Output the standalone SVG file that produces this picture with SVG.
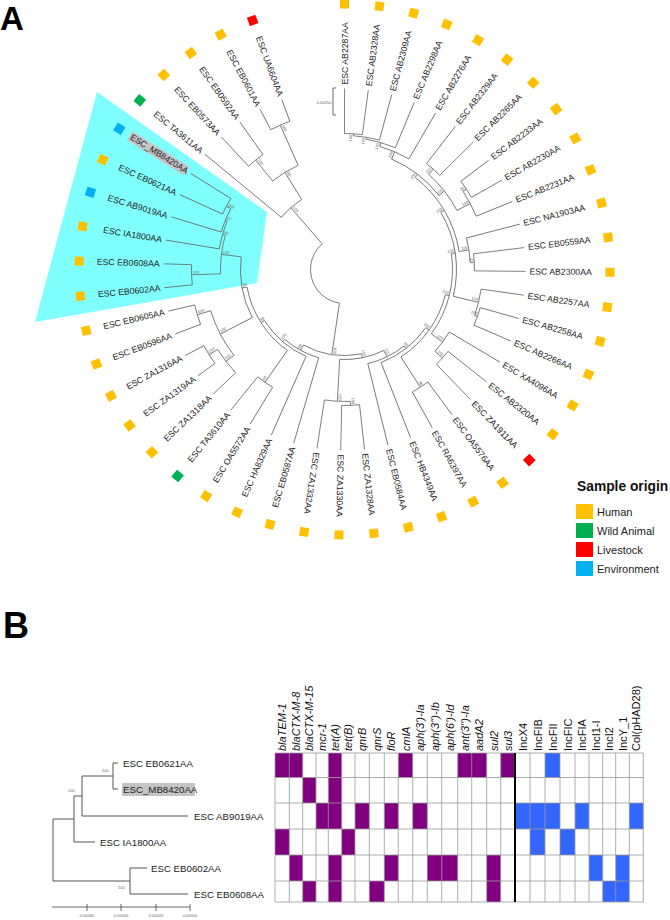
<svg xmlns="http://www.w3.org/2000/svg" width="670" height="920" viewBox="0 0 670 920">
<style>
.t{font-family:"Liberation Sans",Arial,sans-serif}
.lf{font-size:8.7px;fill:#222}
.bs{font-family:"Liberation Sans",Arial,sans-serif;font-size:4px;fill:#666}
.br{fill:none;stroke:#666;stroke-width:0.8}
.hu{fill:#FFC000}.wa{fill:#00B050}.li{fill:#FF0000}.en{fill:#00B0F0}
.pu{fill:#800080}.bl{fill:#3366FF}
.hd{font-family:"Liberation Sans",Arial,sans-serif;font-size:11px;fill:#111}
.it{font-style:italic}
.lb{font-family:"Liberation Sans",Arial,sans-serif;font-size:9.7px;fill:#222}
.grid{fill:none;stroke:#999;stroke-width:0.8}
.tb{fill:none;stroke:#555;stroke-width:1}
</style>
<rect width="670" height="920" fill="#fff"/>
<text class="t" x="0" y="30" font-size="33" font-weight="bold">A</text>
<polygon id="highlight" points="97,92 267,212 257,283 35,322" fill="#80FFFF"/>
<g id="connectors-a" class="br" transform="translate(344.5 269.5)">
<circle r="34" pathLength="360" stroke-dasharray="130.5 720" transform="rotate(98.5)"/>
<circle r="82" pathLength="360" stroke-dasharray="18.95 720" transform="rotate(219.55)"/>
<circle r="114" pathLength="360" stroke-dasharray="15.1 720" transform="rotate(230.9)"/>
<circle r="141" pathLength="360" stroke-dasharray="7.55 720" transform="rotate(227.1)"/>
<circle r="158" pathLength="360" stroke-dasharray="7.55 720" transform="rotate(242.2)"/>
<circle r="86" pathLength="360" stroke-dasharray="39.9 720" transform="rotate(78.6)"/>
<circle r="92" pathLength="360" stroke-dasharray="24.4 720" transform="rotate(106.3)"/>
<circle r="95" pathLength="360" stroke-dasharray="33.65 720" transform="rotate(113.85)"/>
<circle r="99" pathLength="360" stroke-dasharray="44.6 720" transform="rotate(125.2)"/>
<circle r="138" pathLength="360" stroke-dasharray="7.55 720" transform="rotate(121.4)"/>
<circle r="104" pathLength="360" stroke-dasharray="34.5 720" transform="rotate(152.5)"/>
<circle r="140" pathLength="360" stroke-dasharray="20.7 720" transform="rotate(142.2)"/>
<circle r="154" pathLength="360" stroke-dasharray="7.55 720" transform="rotate(159.15)"/>
<circle r="150" pathLength="360" stroke-dasharray="11.3 720" transform="rotate(136.5)"/>
<circle r="160" pathLength="360" stroke-dasharray="7.55 720" transform="rotate(144.05)"/>
<circle r="124" pathLength="360" stroke-dasharray="18 720" transform="rotate(178)"/>
<circle r="153" pathLength="360" stroke-dasharray="7.55 720" transform="rotate(174.25)"/>
<circle r="127" pathLength="360" stroke-dasharray="13.25 720" transform="rotate(189.35)"/>
<circle r="129" pathLength="360" stroke-dasharray="11.3 720" transform="rotate(196.9)"/>
<circle r="134" pathLength="360" stroke-dasharray="7.55 720" transform="rotate(204.45)"/>
<circle r="90" pathLength="360" stroke-dasharray="29 720" transform="rotate(64.1)"/>
<circle r="132" pathLength="360" stroke-dasharray="11.35 720" transform="rotate(87.4)"/>
<circle r="136" pathLength="360" stroke-dasharray="7.55 720" transform="rotate(83.65)"/>
<circle r="97" pathLength="360" stroke-dasharray="24 720" transform="rotate(52.1)"/>
<circle r="100" pathLength="360" stroke-dasharray="32.95 720" transform="rotate(35.6)"/>
<circle r="104" pathLength="360" stroke-dasharray="43.2 720" transform="rotate(14)"/>
<circle r="140" pathLength="360" stroke-dasharray="7.55 720" transform="rotate(53.45)"/>
<circle r="108" pathLength="360" stroke-dasharray="45 720" transform="rotate(-8.5)"/>
<circle r="122" pathLength="360" stroke-dasharray="11.3 720" transform="rotate(30.8)"/>
<circle r="132" pathLength="360" stroke-dasharray="7.55 720" transform="rotate(38.35)"/>
<circle r="112" pathLength="360" stroke-dasharray="44.5 720" transform="rotate(-30.7)"/>
<circle r="138" pathLength="360" stroke-dasharray="11.35 720" transform="rotate(8.15)"/>
<circle r="141" pathLength="360" stroke-dasharray="7.55 720" transform="rotate(15.7)"/>
<circle r="116" pathLength="360" stroke-dasharray="43.6 720" transform="rotate(-52.5)"/>
<circle r="126" pathLength="360" stroke-dasharray="11.3 720" transform="rotate(-14.5)"/>
<circle r="130" pathLength="360" stroke-dasharray="7.55 720" transform="rotate(-6.95)"/>
<circle r="120" pathLength="360" stroke-dasharray="28.8 720" transform="rotate(-66.9)"/>
<circle r="127" pathLength="360" stroke-dasharray="20.8 720" transform="rotate(-48.5)"/>
<circle r="134" pathLength="360" stroke-dasharray="7.55 720" transform="rotate(-52.25)"/>
<circle r="142" pathLength="360" stroke-dasharray="11.35 720" transform="rotate(-33.4)"/>
<circle r="146" pathLength="360" stroke-dasharray="7.55 720" transform="rotate(-37.15)"/>
<circle r="128" pathLength="360" stroke-dasharray="14.2 720" transform="rotate(-74)"/>
<circle r="132" pathLength="360" stroke-dasharray="13.25 720" transform="rotate(-80.6)"/>
<circle r="134" pathLength="360" stroke-dasharray="11.3 720" transform="rotate(-86.2)"/>
<circle r="136" pathLength="360" stroke-dasharray="7.55 720" transform="rotate(-90)"/>
<path d="M34 0H86" transform="rotate(98.5)"/>
<path d="M34 0H82" transform="rotate(229)"/>
<path d="M82 0H181" transform="rotate(219.55)"/>
<path d="M82 0H114" transform="rotate(238.5)"/>
<path d="M114 0H141" transform="rotate(230.9)"/>
<path d="M114 0H158" transform="rotate(246)"/>
<path d="M141 0H181" transform="rotate(227.1)"/>
<path d="M141 0H181" transform="rotate(234.65)"/>
<path d="M158 0H181" transform="rotate(242.2)"/>
<path d="M158 0H181" transform="rotate(249.75)"/>
<path d="M86 0H90" transform="rotate(78.6)"/>
<path d="M86 0H92" transform="rotate(118.5)"/>
<path d="M92 0H181" transform="rotate(106.3)"/>
<path d="M92 0H95" transform="rotate(130.7)"/>
<path d="M95 0H181" transform="rotate(113.85)"/>
<path d="M95 0H99" transform="rotate(147.5)"/>
<path d="M99 0H138" transform="rotate(125.2)"/>
<path d="M99 0H104" transform="rotate(169.8)"/>
<path d="M138 0H181" transform="rotate(121.4)"/>
<path d="M138 0H181" transform="rotate(128.95)"/>
<path d="M104 0H140" transform="rotate(152.5)"/>
<path d="M104 0H124" transform="rotate(187)"/>
<path d="M140 0H150" transform="rotate(142.2)"/>
<path d="M140 0H154" transform="rotate(162.9)"/>
<path d="M154 0H181" transform="rotate(159.15)"/>
<path d="M154 0H181" transform="rotate(166.7)"/>
<path d="M150 0H181" transform="rotate(136.5)"/>
<path d="M150 0H160" transform="rotate(147.8)"/>
<path d="M160 0H181" transform="rotate(144.05)"/>
<path d="M160 0H181" transform="rotate(151.6)"/>
<path d="M124 0H153" transform="rotate(178)"/>
<path d="M124 0H127" transform="rotate(196)"/>
<path d="M153 0H181" transform="rotate(174.25)"/>
<path d="M153 0H181" transform="rotate(181.8)"/>
<path d="M127 0H181" transform="rotate(189.35)"/>
<path d="M127 0H129" transform="rotate(202.6)"/>
<path d="M129 0H181" transform="rotate(196.9)"/>
<path d="M129 0H134" transform="rotate(208.2)"/>
<path d="M134 0H181" transform="rotate(204.45)"/>
<path d="M134 0H181" transform="rotate(212)"/>
<path d="M90 0H97" transform="rotate(64.1)"/>
<path d="M90 0H132" transform="rotate(93.1)"/>
<path d="M132 0H136" transform="rotate(87.4)"/>
<path d="M132 0H181" transform="rotate(98.75)"/>
<path d="M136 0H181" transform="rotate(83.65)"/>
<path d="M136 0H181" transform="rotate(91.2)"/>
<path d="M97 0H100" transform="rotate(52.1)"/>
<path d="M97 0H181" transform="rotate(76.1)"/>
<path d="M100 0H104" transform="rotate(35.6)"/>
<path d="M100 0H181" transform="rotate(68.55)"/>
<path d="M104 0H108" transform="rotate(14)"/>
<path d="M104 0H140" transform="rotate(57.2)"/>
<path d="M140 0H181" transform="rotate(53.45)"/>
<path d="M140 0H181" transform="rotate(61)"/>
<path d="M108 0H112" transform="rotate(-8.5)"/>
<path d="M108 0H122" transform="rotate(36.5)"/>
<path d="M122 0H181" transform="rotate(30.8)"/>
<path d="M122 0H132" transform="rotate(42.1)"/>
<path d="M132 0H181" transform="rotate(38.35)"/>
<path d="M132 0H181" transform="rotate(45.9)"/>
<path d="M112 0H116" transform="rotate(-30.7)"/>
<path d="M112 0H138" transform="rotate(13.8)"/>
<path d="M138 0H181" transform="rotate(8.15)"/>
<path d="M138 0H141" transform="rotate(19.5)"/>
<path d="M141 0H181" transform="rotate(15.7)"/>
<path d="M141 0H181" transform="rotate(23.25)"/>
<path d="M116 0H120" transform="rotate(-52.5)"/>
<path d="M116 0H126" transform="rotate(-8.9)"/>
<path d="M126 0H181" transform="rotate(-14.5)"/>
<path d="M126 0H130" transform="rotate(-3.2)"/>
<path d="M130 0H181" transform="rotate(-6.95)"/>
<path d="M130 0H181" transform="rotate(0.6)"/>
<path d="M120 0H128" transform="rotate(-66.9)"/>
<path d="M120 0H127" transform="rotate(-38.1)"/>
<path d="M127 0H134" transform="rotate(-48.5)"/>
<path d="M127 0H142" transform="rotate(-27.7)"/>
<path d="M134 0H181" transform="rotate(-52.25)"/>
<path d="M134 0H181" transform="rotate(-44.7)"/>
<path d="M142 0H146" transform="rotate(-33.4)"/>
<path d="M142 0H181" transform="rotate(-22.05)"/>
<path d="M146 0H181" transform="rotate(-37.15)"/>
<path d="M146 0H181" transform="rotate(-29.6)"/>
<path d="M128 0H132" transform="rotate(-74)"/>
<path d="M128 0H181" transform="rotate(-59.8)"/>
<path d="M132 0H134" transform="rotate(-80.6)"/>
<path d="M132 0H181" transform="rotate(-67.35)"/>
<path d="M134 0H136" transform="rotate(-86.2)"/>
<path d="M134 0H181" transform="rotate(-74.9)"/>
<path d="M136 0H181" transform="rotate(-90)"/>
<path d="M136 0H181" transform="rotate(-82.45)"/>
</g>
<g id="bootstrap-a" class="bs" transform="translate(344.5 269.5)">
<text transform="rotate(49)" x="-81" y="-1.2">100</text>
<text transform="rotate(58.5)" x="-113" y="-1.2">88</text>
<text transform="rotate(50.9)" x="-140" y="-1.2">100</text>
<text transform="rotate(66)" x="-157" y="-1.2">100</text>
<text transform="rotate(-61.5)" x="-91" y="-1.2">99</text>
<text transform="rotate(-49.3)" x="-94" y="-1.2">100</text>
<text transform="rotate(-32.5)" x="-98" y="-1.2">99</text>
<text transform="rotate(-54.8)" x="-137" y="-1.2">88</text>
<text transform="rotate(-10.2)" x="-103" y="-1.2">99</text>
<text transform="rotate(-27.5)" x="-139" y="-1.2">100</text>
<text transform="rotate(-17.1)" x="-153" y="-1.2">100</text>
<text transform="rotate(-37.8)" x="-149" y="-1.2">100</text>
<text transform="rotate(-32.2)" x="-159" y="-1.2">100</text>
<text transform="rotate(7)" x="-123" y="-1.2">100</text>
<text transform="rotate(-2)" x="-152" y="-1.2">100</text>
<text transform="rotate(16)" x="-126" y="-1.2">99</text>
<text transform="rotate(22.6)" x="-128" y="-1.2">97</text>
<text transform="rotate(28.2)" x="-133" y="-1.2">100</text>
<g text-anchor="end">
<text transform="rotate(98.5)" x="85" y="-1.2">100</text>
<text transform="rotate(78.6)" x="89" y="-1.2">100</text>
<text transform="rotate(93.1)" x="131" y="-1.2">100</text>
<text transform="rotate(87.4)" x="135" y="-1.2">100</text>
<text transform="rotate(64.1)" x="96" y="-1.2">100</text>
<text transform="rotate(52.1)" x="99" y="-1.2">98</text>
<text transform="rotate(35.6)" x="103" y="-1.2">100</text>
<text transform="rotate(57.2)" x="139" y="-1.2">98</text>
<text transform="rotate(14)" x="107" y="-1.2">100</text>
<text transform="rotate(36.5)" x="121" y="-1.2">100</text>
<text transform="rotate(42.1)" x="131" y="-1.2">100</text>
<text transform="rotate(-8.5)" x="111" y="-1.2">100</text>
<text transform="rotate(13.8)" x="137" y="-1.2">100</text>
<text transform="rotate(19.5)" x="140" y="-1.2">100</text>
<text transform="rotate(-30.7)" x="115" y="-1.2">100</text>
<text transform="rotate(-8.9)" x="125" y="-1.2">100</text>
<text transform="rotate(-3.2)" x="129" y="-1.2">99</text>
<text transform="rotate(-52.5)" x="119" y="-1.2">100</text>
<text transform="rotate(-38.1)" x="126" y="-1.2">100</text>
<text transform="rotate(-48.5)" x="133" y="-1.2">100</text>
<text transform="rotate(-27.7)" x="141" y="-1.2">100</text>
<text transform="rotate(-33.4)" x="145" y="-1.2">90</text>
<text transform="rotate(-66.9)" x="127" y="-1.2">100</text>
<text transform="rotate(-74)" x="131" y="-1.2">100</text>
<text transform="rotate(-80.6)" x="133" y="-1.2">100</text>
<text transform="rotate(-86.2)" x="135" y="-1.2">100</text>
</g>
</g>
<g id="scalebar-a">
<path d="M336 88H333V115H336" fill="none" stroke="#444" stroke-width="0.8"/>
<text class="bs" x="324" y="104" text-anchor="middle">0.00050</text>
</g>
<g id="leaves-a">
<g id="leaf-AB2287" transform="translate(344.5 269.5) rotate(-90)"><rect class="hu" x="261" y="-4.5" width="9" height="9"/><text class="t lf" x="185" y="3">ESC AB2287AA</text></g>
<g id="leaf-AB2328" transform="translate(344.5 269.5) rotate(-82.45)"><rect class="hu" x="261" y="-4.5" width="9" height="9"/><text class="t lf" x="185" y="3">ESC AB2328AA</text></g>
<g id="leaf-AB2309" transform="translate(344.5 269.5) rotate(-74.9)"><rect class="hu" x="261" y="-4.5" width="9" height="9"/><text class="t lf" x="185" y="3">ESC AB2309AA</text></g>
<g id="leaf-AB2298" transform="translate(344.5 269.5) rotate(-67.35)"><rect class="hu" x="261" y="-4.5" width="9" height="9"/><text class="t lf" x="185" y="3">ESC AB2298AA</text></g>
<g id="leaf-AB2276" transform="translate(344.5 269.5) rotate(-59.8)"><rect class="hu" x="261" y="-4.5" width="9" height="9"/><text class="t lf" x="185" y="3">ESC AB2276AA</text></g>
<g id="leaf-AB2329" transform="translate(344.5 269.5) rotate(-52.25)"><rect class="hu" x="261" y="-4.5" width="9" height="9"/><text class="t lf" x="185" y="3">ESC AB2329AA</text></g>
<g id="leaf-AB2265" transform="translate(344.5 269.5) rotate(-44.7)"><rect class="hu" x="261" y="-4.5" width="9" height="9"/><text class="t lf" x="185" y="3">ESC AB2265AA</text></g>
<g id="leaf-AB2233" transform="translate(344.5 269.5) rotate(-37.15)"><rect class="hu" x="261" y="-4.5" width="9" height="9"/><text class="t lf" x="185" y="3">ESC AB2233AA</text></g>
<g id="leaf-AB2230" transform="translate(344.5 269.5) rotate(-29.6)"><rect class="hu" x="261" y="-4.5" width="9" height="9"/><text class="t lf" x="185" y="3">ESC AB2230AA</text></g>
<g id="leaf-AB2231" transform="translate(344.5 269.5) rotate(-22.05)"><rect class="hu" x="261" y="-4.5" width="9" height="9"/><text class="t lf" x="185" y="3">ESC AB2231AA</text></g>
<g id="leaf-NA1903" transform="translate(344.5 269.5) rotate(-14.5)"><rect class="hu" x="261" y="-4.5" width="9" height="9"/><text class="t lf" x="185" y="3">ESC NA1903AA</text></g>
<g id="leaf-EB0559" transform="translate(344.5 269.5) rotate(-6.95)"><rect class="hu" x="261" y="-4.5" width="9" height="9"/><text class="t lf" x="185" y="3">ESC EB0559AA</text></g>
<g id="leaf-AB2300" transform="translate(344.5 269.5) rotate(0.6)"><rect class="hu" x="261" y="-4.5" width="9" height="9"/><text class="t lf" x="185" y="3">ESC AB2300AA</text></g>
<g id="leaf-AB2257" transform="translate(344.5 269.5) rotate(8.15)"><rect class="hu" x="261" y="-4.5" width="9" height="9"/><text class="t lf" x="185" y="3">ESC AB2257AA</text></g>
<g id="leaf-AB2258" transform="translate(344.5 269.5) rotate(15.7)"><rect class="hu" x="261" y="-4.5" width="9" height="9"/><text class="t lf" x="185" y="3">ESC AB2258AA</text></g>
<g id="leaf-AB2266" transform="translate(344.5 269.5) rotate(23.25)"><rect class="hu" x="261" y="-4.5" width="9" height="9"/><text class="t lf" x="185" y="3">ESC AB2266AA</text></g>
<g id="leaf-XA4096" transform="translate(344.5 269.5) rotate(30.8)"><rect class="hu" x="261" y="-4.5" width="9" height="9"/><text class="t lf" x="185" y="3">ESC XA4096AA</text></g>
<g id="leaf-AB2320" transform="translate(344.5 269.5) rotate(38.35)"><rect class="hu" x="261" y="-4.5" width="9" height="9"/><text class="t lf" x="185" y="3">ESC AB2320AA</text></g>
<g id="leaf-ZA1911" transform="translate(344.5 269.5) rotate(45.9)"><rect class="li" x="261" y="-4.5" width="9" height="9"/><text class="t lf" x="185" y="3">ESC ZA1911AA</text></g>
<g id="leaf-OA5576" transform="translate(344.5 269.5) rotate(53.45)"><rect class="hu" x="261" y="-4.5" width="9" height="9"/><text class="t lf" x="185" y="3">ESC OA5576AA</text></g>
<g id="leaf-RA6397" transform="translate(344.5 269.5) rotate(61)"><rect class="hu" x="261" y="-4.5" width="9" height="9"/><text class="t lf" x="185" y="3">ESC RA6397AA</text></g>
<g id="leaf-HB4349" transform="translate(344.5 269.5) rotate(68.55)"><rect class="hu" x="261" y="-4.5" width="9" height="9"/><text class="t lf" x="185" y="3">ESC HB4349AA</text></g>
<g id="leaf-EB0584" transform="translate(344.5 269.5) rotate(76.1)"><rect class="hu" x="261" y="-4.5" width="9" height="9"/><text class="t lf" x="185" y="3">ESC EB0584AA</text></g>
<g id="leaf-ZA1328" transform="translate(344.5 269.5) rotate(83.65)"><rect class="hu" x="261" y="-4.5" width="9" height="9"/><text class="t lf" x="185" y="3">ESC ZA1328AA</text></g>
<g id="leaf-ZA1330" transform="translate(344.5 269.5) rotate(91.2)"><rect class="hu" x="261" y="-4.5" width="9" height="9"/><text class="t lf" x="185" y="3">ESC ZA1330AA</text></g>
<g id="leaf-ZA1332" transform="translate(344.5 269.5) rotate(98.75)"><rect class="hu" x="261" y="-4.5" width="9" height="9"/><text class="t lf" x="185" y="3">ESC ZA1332AA</text></g>
<g id="leaf-EB0587" transform="translate(344.5 269.5) rotate(106.3)"><rect class="hu" x="261" y="-4.5" width="9" height="9"/><text class="t lf" transform="rotate(180)" x="-185" y="3" text-anchor="end">ESC EB0587AA</text></g>
<g id="leaf-HA8329" transform="translate(344.5 269.5) rotate(113.85)"><rect class="hu" x="261" y="-4.5" width="9" height="9"/><text class="t lf" transform="rotate(180)" x="-185" y="3" text-anchor="end">ESC HA8329AA</text></g>
<g id="leaf-OA5572" transform="translate(344.5 269.5) rotate(121.4)"><rect class="hu" x="261" y="-4.5" width="9" height="9"/><text class="t lf" transform="rotate(180)" x="-185" y="3" text-anchor="end">ESC OA5572AA</text></g>
<g id="leaf-TA3610" transform="translate(344.5 269.5) rotate(128.95)"><rect class="wa" x="261" y="-4.5" width="9" height="9"/><text class="t lf" transform="rotate(180)" x="-185" y="3" text-anchor="end">ESC TA3610AA</text></g>
<g id="leaf-ZA1318" transform="translate(344.5 269.5) rotate(136.5)"><rect class="hu" x="261" y="-4.5" width="9" height="9"/><text class="t lf" transform="rotate(180)" x="-185" y="3" text-anchor="end">ESC ZA1318AA</text></g>
<g id="leaf-ZA1319" transform="translate(344.5 269.5) rotate(144.05)"><rect class="hu" x="261" y="-4.5" width="9" height="9"/><text class="t lf" transform="rotate(180)" x="-185" y="3" text-anchor="end">ESC ZA1319AA</text></g>
<g id="leaf-ZA1316" transform="translate(344.5 269.5) rotate(151.6)"><rect class="hu" x="261" y="-4.5" width="9" height="9"/><text class="t lf" transform="rotate(180)" x="-185" y="3" text-anchor="end">ESC ZA1316AA</text></g>
<g id="leaf-EB0596" transform="translate(344.5 269.5) rotate(159.15)"><rect class="hu" x="261" y="-4.5" width="9" height="9"/><text class="t lf" transform="rotate(180)" x="-185" y="3" text-anchor="end">ESC EB0596AA</text></g>
<g id="leaf-EB0605" transform="translate(344.5 269.5) rotate(166.7)"><rect class="hu" x="261" y="-4.5" width="9" height="9"/><text class="t lf" transform="rotate(180)" x="-185" y="3" text-anchor="end">ESC EB0605AA</text></g>
<g id="leaf-EB0602" transform="translate(344.5 269.5) rotate(174.25)"><rect class="hu" x="261" y="-4.5" width="9" height="9"/><text class="t lf" transform="rotate(180)" x="-185" y="3" text-anchor="end">ESC EB0602AA</text></g>
<g id="leaf-EB0608" transform="translate(344.5 269.5) rotate(181.8)"><rect class="hu" x="261" y="-4.5" width="9" height="9"/><text class="t lf" transform="rotate(180)" x="-185" y="3" text-anchor="end">ESC EB0608AA</text></g>
<g id="leaf-IA1800" transform="translate(344.5 269.5) rotate(189.35)"><rect class="hu" x="261" y="-4.5" width="9" height="9"/><text class="t lf" transform="rotate(180)" x="-185" y="3" text-anchor="end">ESC IA1800AA</text></g>
<g id="leaf-AB9019" transform="translate(344.5 269.5) rotate(196.9)"><rect class="en" x="261" y="-4.5" width="9" height="9"/><text class="t lf" transform="rotate(180)" x="-185" y="3" text-anchor="end">ESC AB9019AA</text></g>
<g id="leaf-EB0621" transform="translate(344.5 269.5) rotate(204.45)"><rect class="hu" x="261" y="-4.5" width="9" height="9"/><text class="t lf" transform="rotate(180)" x="-185" y="3" text-anchor="end">ESC EB0621AA</text></g>
<g id="leaf-MB8420" transform="translate(344.5 269.5) rotate(212)"><rect class="en" x="261" y="-4.5" width="9" height="9"/><g transform="rotate(180)"><rect x="-253" y="-5" width="67" height="10.5" fill="#c4c4c4"/><text class="t lf" x="-185" y="3" text-anchor="end">ESC_MB8420AA</text></g></g>
<g id="leaf-TA3611" transform="translate(344.5 269.5) rotate(219.55)"><rect class="wa" x="261" y="-4.5" width="9" height="9"/><text class="t lf" transform="rotate(180)" x="-185" y="3" text-anchor="end">ESC TA3611AA</text></g>
<g id="leaf-EB0573" transform="translate(344.5 269.5) rotate(227.1)"><rect class="hu" x="261" y="-4.5" width="9" height="9"/><text class="t lf" transform="rotate(180)" x="-185" y="3" text-anchor="end">ESC EB0573AA</text></g>
<g id="leaf-EB0592" transform="translate(344.5 269.5) rotate(234.65)"><rect class="hu" x="261" y="-4.5" width="9" height="9"/><text class="t lf" transform="rotate(180)" x="-185" y="3" text-anchor="end">ESC EB0592AA</text></g>
<g id="leaf-EB0601" transform="translate(344.5 269.5) rotate(242.2)"><rect class="hu" x="261" y="-4.5" width="9" height="9"/><text class="t lf" transform="rotate(180)" x="-185" y="3" text-anchor="end">ESC EB0601AA</text></g>
<g id="leaf-UA6604" transform="translate(344.5 269.5) rotate(249.75)"><rect class="li" x="261" y="-4.5" width="9" height="9"/><text class="t lf" transform="rotate(180)" x="-185" y="3" text-anchor="end">ESC UA6604AA</text></g>
</g>
<g id="legend">
<text class="t" x="577" y="491" font-size="13.8" font-weight="bold" fill="#111">Sample origin</text>
<rect class="hu" x="576" y="504" width="17" height="15"/>
<rect class="wa" x="576" y="523" width="17" height="15"/>
<rect class="li" x="576" y="542" width="17" height="15"/>
<rect class="en" x="576" y="561" width="17" height="15"/>
<text class="t" x="597" y="516" font-size="11" fill="#222">Human</text>
<text class="t" x="597" y="535" font-size="11" fill="#222">Wild Animal</text>
<text class="t" x="597" y="554" font-size="11" fill="#222">Livestock</text>
<text class="t" x="597" y="573" font-size="11" fill="#222">Environment</text>
</g>
<text class="t" x="3" y="638" font-size="36" font-weight="bold">B</text>
<g id="connectors-b" class="tb">
<path d="M113 763H118M113 789H118M113 763V789M82 776H113M82 816H188M82 776V816M74 796H82M74 842H95M74 796V842M53 819H74M130 868H147M130 894H188M130 868V894M53 881H130M53 819V881"/>
</g>
<g id="bootstrap-b" class="bs">
<text x="102" y="772">100</text>
<text x="68" y="792">100</text>
<text x="118" y="889">100</text>
</g>
<g id="leaves-b">
<g id="b-EB0621"><text class="lb" x="123" y="766.5">ESC EB0621AA</text></g>
<g id="b-MB8420"><rect x="122" y="783" width="73" height="13" fill="#c4c4c4"/><text class="lb" x="123" y="792.5">ESC_MB8420AA</text></g>
<g id="b-AB9019"><text class="lb" x="194" y="819.5">ESC AB9019AA</text></g>
<g id="b-IA1800"><text class="lb" x="100" y="845.5">ESC IA1800AA</text></g>
<g id="b-EB0602"><text class="lb" x="151" y="871.5">ESC EB0602AA</text></g>
<g id="b-EB0608"><text class="lb" x="194" y="897.5">ESC EB0608AA</text></g>
</g>
<g id="axis-b">
<path d="M52 907H190M87 904V911M121 904V911M156 904V911M190 904V911" fill="none" stroke="#444" stroke-width="0.8"/>
<g class="bs" font-size="4.5" text-anchor="middle">
<text x="87" y="917">0.00060</text><text x="121" y="917">0.00040</text><text x="156" y="917">0.00020</text><text x="190" y="917">0.00000</text>
</g>
</g>
<g id="matrix">
<rect x="275" y="753" width="368.3" height="149" fill="#fff"/>
<g class="pu">
<rect x="275" y="753" width="27.7" height="24.5"/><rect x="328.3" y="753" width="13.4" height="24.5"/><rect x="398.3" y="753" width="14.4" height="24.5"/><rect x="457.7" y="753" width="29" height="24.5"/><rect x="500.7" y="753" width="14.3" height="24.5"/>
<rect x="302.7" y="777.5" width="13.3" height="25.5"/><rect x="328.3" y="777.5" width="13.4" height="25.5"/>
<rect x="316" y="803" width="25.7" height="26"/><rect x="355" y="803" width="14.3" height="26"/><rect x="384.3" y="803" width="14" height="26"/><rect x="412.7" y="803" width="14.6" height="26"/>
<rect x="275" y="829" width="14.3" height="26"/><rect x="341.7" y="829" width="13.3" height="26"/>
<rect x="289.3" y="855" width="13.4" height="26"/><rect x="328.3" y="855" width="13.4" height="26"/><rect x="384.3" y="855" width="14" height="26"/><rect x="427.3" y="855" width="30.4" height="26"/><rect x="486.7" y="855" width="14" height="26"/>
<rect x="302.7" y="881" width="13.3" height="21"/><rect x="328.3" y="881" width="13.4" height="21"/><rect x="369.3" y="881" width="15" height="21"/><rect x="486.7" y="881" width="14" height="21"/>
</g>
<g class="bl">
<rect x="545" y="753" width="15" height="24.5"/>
<rect x="515" y="803" width="45" height="26"/><rect x="575" y="803" width="14" height="26"/><rect x="629.3" y="803" width="14" height="26"/>
<rect x="530" y="829" width="15" height="26"/><rect x="560" y="829" width="15" height="26"/>
<rect x="589" y="855" width="13.7" height="26"/><rect x="615.7" y="855" width="13.6" height="26"/>
<rect x="602.7" y="881" width="26.6" height="21"/>
</g>
<path class="grid" d="M275 753V902M289.3 753V902M302.7 753V902M316 753V902M328.3 753V902M341.7 753V902M355 753V902M369.3 753V902M384.3 753V902M398.3 753V902M412.7 753V902M427.3 753V902M441.7 753V902M457.7 753V902M471.7 753V902M486.7 753V902M500.7 753V902M530 753V902M545 753V902M560 753V902M575 753V902M589 753V902M602.7 753V902M615.7 753V902M629.3 753V902M643.3 753V902M275 753H643.3M275 777.5H643.3M275 803H643.3M275 829H643.3M275 855H643.3M275 881H643.3M275 902H643.3"/>
<path d="M515 753V902" stroke="#000" stroke-width="2"/>
</g>
<g id="headers" class="hd">
<text class="it" transform="translate(286 751) rotate(-90)">blaTEM-1</text>
<text class="it" transform="translate(300 751) rotate(-90)">blaCTX-M-8</text>
<text class="it" transform="translate(313.4 751) rotate(-90)">blaCTX-M-15</text>
<text class="it" transform="translate(326.2 751) rotate(-90)">mcr-1</text>
<text class="it" transform="translate(339 751) rotate(-90)">tet(A)</text>
<text class="it" transform="translate(352.4 751) rotate(-90)">tet(B)</text>
<text class="it" transform="translate(366.2 751) rotate(-90)">qnrB</text>
<text class="it" transform="translate(380.8 751) rotate(-90)">qnrS</text>
<text class="it" transform="translate(395.3 751) rotate(-90)">floR</text>
<text class="it" transform="translate(409.5 751) rotate(-90)">cmlA</text>
<text class="it" transform="translate(424 751) rotate(-90)">aph(3')-Ia</text>
<text class="it" transform="translate(438.5 751) rotate(-90)">aph(3'')-Ib</text>
<text class="it" transform="translate(453.7 751) rotate(-90)">aph(6')-Id</text>
<text class="it" transform="translate(468.7 751) rotate(-90)">ant(3'')-Ia</text>
<text class="it" transform="translate(483.2 751) rotate(-90)">aadA2</text>
<text class="it" transform="translate(497.7 751) rotate(-90)">sul2</text>
<text class="it" transform="translate(511.9 751) rotate(-90)">sul3</text>
<text transform="translate(526.5 751) rotate(-90)">IncX4</text>
<text transform="translate(541.5 751) rotate(-90)">IncFIB</text>
<text transform="translate(556.5 751) rotate(-90)">IncFII</text>
<text transform="translate(571.5 751) rotate(-90)">IncFIC</text>
<text transform="translate(586 751) rotate(-90)">IncFIA</text>
<text transform="translate(599.9 751) rotate(-90)">IncI1-I</text>
<text transform="translate(613.2 751) rotate(-90)">IncI2</text>
<text transform="translate(626.5 751) rotate(-90)">IncY_1</text>
<text transform="translate(640.3 751) rotate(-90)">Col(pHAD28)</text>
</g>
</svg>
